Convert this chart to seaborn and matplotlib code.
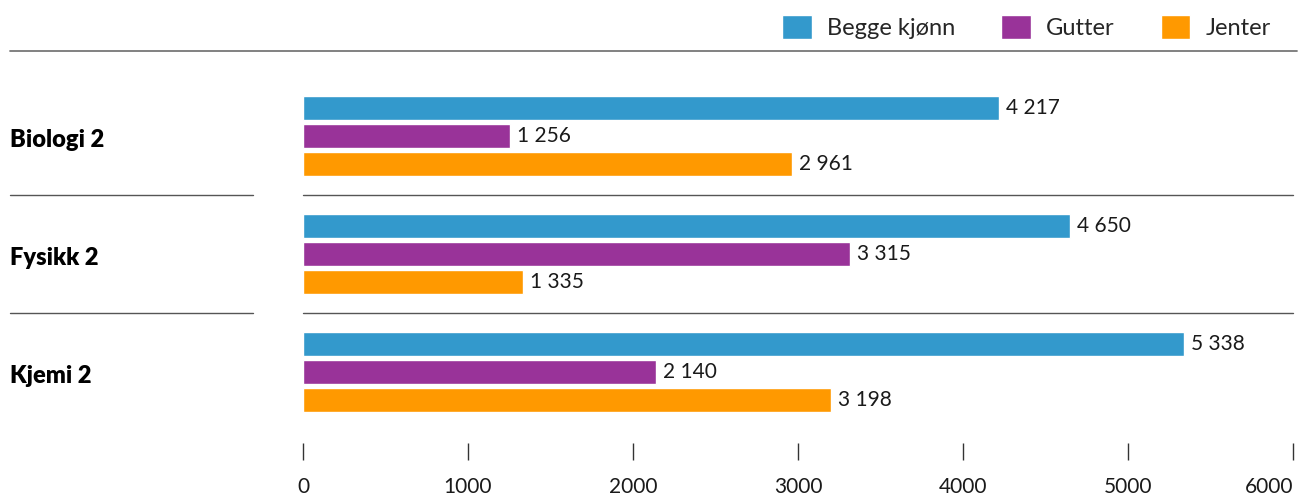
import numpy as np
import pandas as pd
import seaborn as sns
import matplotlib.pyplot as plt

#Data
fag = ['Biologi 2', 'Fysikk 2', 'Kjemi 2']
grupper = ['Begge kjønn', 'Gutter', 'Jenter']
begge = [4217, 4650, 5338]
gutter = [1256, 3315, 2140]
jenter = [2961, 1335, 3198]
x_ticks = [0, 1000, 2000, 3000, 4000, 5000, 6000]
farger = ['#3399cc', '#993399', '#ff9900']

sns.set_theme(style='white')
plt.rcParams['font.family'] = ['Lato', 'DejaVu Sans']
plt.rcParams['font.size'] = 15

#Long format for seaborn
df = pd.DataFrame({
    'fag': fag * 3,
    'gruppe': np.repeat(grupper, len(fag)),
    'antall': begge + gutter + jenter,
})

W, H = 1312, 498
fig = plt.figure(figsize=(W / 100, H / 100), dpi=100)
ax = fig.add_axes([303 / W, 1 - 443 / H, 990 / W, (443 - 51) / H])

sns.barplot(data=df, x='antall', y='fag', hue='gruppe', hue_order=grupper,
            palette=farger, orient='h', width=0.712, gap=0.143,
            saturation=1, errorbar=None, ax=ax)

ax.set_xlim(0, 6000)
ax.set_ylim(2.602, -0.720)
ax.set_xlabel('')
ax.set_ylabel('')
for s in ax.spines.values():
    s.set_visible(False)

ax.set_xticks(x_ticks)
ax.set_xticklabels([str(t) for t in x_ticks])
ax.tick_params(axis='x', bottom=True, direction='out', length=12.2, width=1,
               color='#333333', pad=12, labelsize=15, labelcolor='#1a1a1a')
ax.tick_params(axis='y', left=False, labelleft=False)
#last label pulled inside like the original
ax.get_xticklabels()[-1].set_ha('right')

#Value labels with space as thousands separator
for c in ax.containers:
    ax.bar_label(c, labels=[format(int(v), ',').replace(',', ' ') for v in c.datavalues],
                 padding=5, fontsize=15, color='#1a1a1a')

#Subject labels at the left
ytr = ax.get_yaxis_transform()
for i, f in enumerate(fag):
    ax.text(-293 / 990, i + 0.03, f, transform=ytr, ha='left', va='center',
            fontsize=17, fontweight='heavy', color='black')

#Separator lines
ax.plot([-293 / 990, 1.004], [1, 1], transform=ax.transAxes, color='#777777',
        lw=1.3, clip_on=False)
for y in [0.5, 1.5]:
    ax.plot([-293 / 990, -50 / 990], [y, y], transform=ytr, color='#555555', lw=1, clip_on=False)
    ax.plot([0, 1], [y, y], transform=ytr, color='#555555', lw=1, clip_on=False)

sns.move_legend(ax, 'center right', bbox_to_anchor=(1271 / W, 1 - 27 / H),
                bbox_transform=fig.transFigure, ncol=3, frameon=False, title=None,
                fontsize=17, handlelength=1.25, handleheight=1.25, handletextpad=0.65,
                columnspacing=1.95, borderpad=0, borderaxespad=0)

fig.savefig('out.png', dpi=100)
